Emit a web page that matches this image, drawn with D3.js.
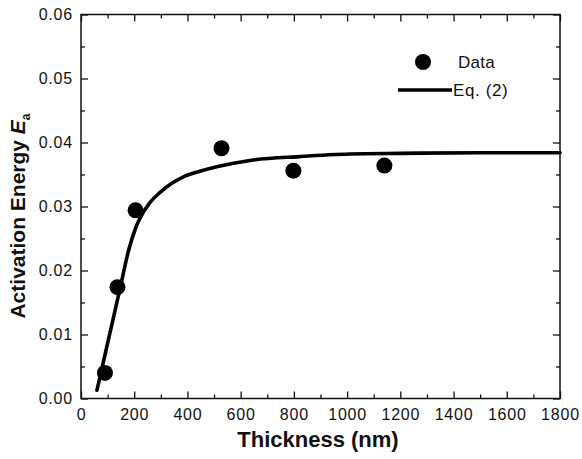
<!DOCTYPE html>
<html>
<head>
<meta charset="utf-8">
<script src="https://cdn.jsdelivr.net/npm/d3@7"></script>
<style>
  body { margin: 0; background: #fff; }
  text { font-family: "Liberation Sans", Arial, sans-serif; fill: #111; }
</style>
</head>
<body>
<div id="chart"></div>
<script>
// measured points
var dataThickness = [90, 137, 205, 528, 798, 1140];
var dataEa = [0.0040, 0.0174, 0.0294, 0.0391, 0.0356, 0.0364];

// Eq. (2) fit curve
var fitThickness = [60, 90, 120, 150, 178, 205, 222, 259, 297, 340, 383, 447, 510, 635, 823, 1011, 1200, 1500, 1800];
var fitEa = [0.0013, 0.0068, 0.0123, 0.0178, 0.0230, 0.0266, 0.0282, 0.0306, 0.0322, 0.0336, 0.0346, 0.0355, 0.0362, 0.0372, 0.0378, 0.0382, 0.0383, 0.0384, 0.0384];

var xTicks = [0, 200, 400, 600, 800, 1000, 1200, 1400, 1600, 1800];
var yTicks = [0.00, 0.01, 0.02, 0.03, 0.04, 0.05, 0.06];

const width = 582, height = 459;
const margin = {left: 81, right: 22, top: 14.5, bottom: 60.5};

const svg = d3.select("#chart").append("svg")
    .attr("width", width)
    .attr("height", height);

var x = d3.scaleLinear().domain([0, 1800]).range([margin.left, width - margin.right]);
var y = d3.scaleLinear().domain([0, 0.06]).range([height - margin.bottom, margin.top]);

// minor ticks at the midpoints
var xMinor = d3.range(100, 1800, 200);
var yMinor = d3.range(0.005, 0.06, 0.01);

function tickAxis(axis, ticks, major, pad) {
    return axis.tickValues(ticks)
        .tickSizeInner(major ? -7 : -4)
        .tickSizeOuter(0)
        .tickPadding(pad || 8);
}

// bottom
svg.append("g")
    .attr("transform", "translate(0," + y(0) + ")")
    .call(tickAxis(d3.axisBottom(x), xTicks, true, 10).tickFormat(d3.format("d")));
svg.append("g")
    .attr("transform", "translate(0," + y(0) + ")")
    .call(tickAxis(d3.axisBottom(x), xMinor, false).tickFormat(""));
// top
svg.append("g")
    .attr("transform", "translate(0," + y(0.06) + ")")
    .call(tickAxis(d3.axisTop(x), xTicks, true).tickFormat(""));
svg.append("g")
    .attr("transform", "translate(0," + y(0.06) + ")")
    .call(tickAxis(d3.axisTop(x), xMinor, false).tickFormat(""));
// left
svg.append("g")
    .attr("transform", "translate(" + x(0) + ",0)")
    .call(tickAxis(d3.axisLeft(y), yTicks, true, 8).tickFormat(d3.format(".2f")));
svg.append("g")
    .attr("transform", "translate(" + x(0) + ",0)")
    .call(tickAxis(d3.axisLeft(y), yMinor, false).tickFormat(""));
// right
svg.append("g")
    .attr("transform", "translate(" + x(1800) + ",0)")
    .call(tickAxis(d3.axisRight(y), yTicks, true).tickFormat(""));
svg.append("g")
    .attr("transform", "translate(" + x(1800) + ",0)")
    .call(tickAxis(d3.axisRight(y), yMinor, false).tickFormat(""));

svg.selectAll(".domain").remove();
svg.selectAll(".tick line").attr("stroke", "#111").attr("stroke-width", 1.3);
svg.selectAll(".tick text")
    .style("font-size", "16px")
    .style("letter-spacing", "0.8px")
    .style("font-family", "'Liberation Sans', Arial, sans-serif")
    .attr("fill", "#111");

// frame
svg.append("rect")
    .attr("x", x(0))
    .attr("y", y(0.06))
    .attr("width", x(1800) - x(0))
    .attr("height", y(0) - y(0.06))
    .attr("fill", "none")
    .attr("stroke", "#111")
    .attr("stroke-width", 1.5);

// fit curve
var fitData = fitThickness.map(function(t, i){ return [t, fitEa[i]]; });
var line = d3.line()
    .x(function(d){ return x(d[0]); })
    .y(function(d){ return y(d[1]); })
    .curve(d3.curveMonotoneX);

svg.append("path")
    .datum(fitData)
    .attr("d", line)
    .attr("fill", "none")
    .attr("stroke", "#000")
    .attr("stroke-width", 3.6)
    .attr("stroke-linecap", "round");

// data points
svg.selectAll("circle.pt")
    .data(dataThickness)
    .enter()
    .append("circle")
    .attr("class", "pt")
    .attr("cx", function(d){ return x(d); })
    .attr("cy", function(d, i){ return y(dataEa[i]); })
    .attr("r", 8)
    .attr("fill", "#000");

// legend
svg.append("circle")
    .attr("cx", 423).attr("cy", 62).attr("r", 8).attr("fill", "#000");
svg.append("text")
    .attr("x", 458).attr("y", 68)
    .style("font-size", "17px")
    .style("letter-spacing", "0.3px")
    .text("Data");
svg.append("line")
    .attr("x1", 398).attr("x2", 452)
    .attr("y1", 90).attr("y2", 90)
    .attr("stroke", "#000").attr("stroke-width", 3.6);
svg.append("text")
    .attr("x", 453).attr("y", 96)
    .style("font-size", "17px")
    .style("letter-spacing", "0.6px")
    .text("Eq. (2)");

// axis titles
svg.append("text")
    .attr("x", 318)
    .attr("y", 447)
    .attr("text-anchor", "middle")
    .style("font-size", "22px")
    .style("font-weight", "bold")
    .text("Thickness (nm)");

var yTitle = svg.append("text")
    .attr("transform", "translate(25," + 216 + ") rotate(-90)")
    .attr("text-anchor", "middle")
    .style("font-size", "21px")
    .style("font-weight", "bold");
yTitle.append("tspan").text("Activation Energy ");
yTitle.append("tspan").style("font-style", "italic").text("E");
yTitle.append("tspan").attr("dy", 5).style("font-size", "12px").text("a");
</script>
</body>
</html>
